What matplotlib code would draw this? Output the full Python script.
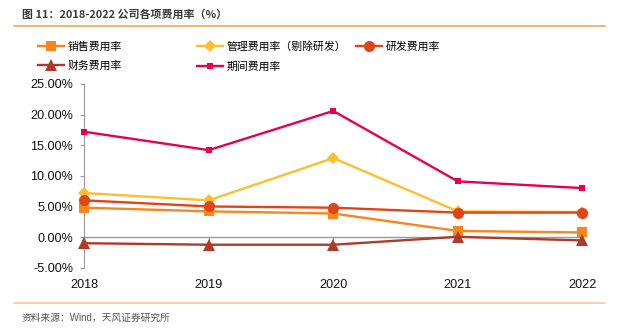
import matplotlib
matplotlib.use("Agg")
import matplotlib.pyplot as plt
from matplotlib.lines import Line2D
from matplotlib.ticker import FuncFormatter

plt.rcParams['font.family'] = ['Liberation Sans', 'Noto Sans CJK SC', 'DejaVu Sans']

years = ["2018", "2019", "2020", "2021", "2022"]
sales_rate = [4.8, 4.2, 3.85, 1.0, 0.75]
admin_rate = [7.2, 6.0, 12.9, 4.2, 4.1]
rd_rate = [6.0, 5.0, 4.8, 4.0, 4.0]
fin_rate = [-1.0, -1.25, -1.25, 0.05, -0.55]
period_rate = [17.2, 14.2, 20.6, 9.1, 8.0]

series = [
    ("销售费用率", sales_rate, "#F7861C", "s", 7),
    ("管理费用率（剔除研发）", admin_rate, "#FFBE2B", "D", 6),
    ("研发费用率", rd_rate, "#E04418", "o", 8),
    ("财务费用率", fin_rate, "#B03A2A", "^", 8),
    ("期间费用率", period_rate, "#E8004F", "s", 4.5),
]

W, H = 625, 331
fig = plt.figure(figsize=(W / 100, H / 100), dpi=100)

def fx(px):
    return px / W

def fy(py):
    return 1 - py / H

# Header and footer
fig.text(fx(22), fy(14), "图 11：2018-2022 公司各项费用率（%）", fontsize=7.9,
         color="#3a3a3a", va="center", ha="left",
         family=["Noto Sans CJK SC", "DejaVu Sans"], fontweight="bold")
fig.add_artist(Line2D([fx(14), fx(605)], [fy(26), fy(26)], color="#F39C4B", lw=1.1))
fig.add_artist(Line2D([fx(14), fx(605)], [fy(303), fy(303)], color="#F8C49A", lw=1.1))
fig.text(fx(22), fy(318), "资料来源：Wind，天风证券研究所", fontsize=7,
         color="#555555", va="center", ha="left")

ax = fig.add_axes([fx(84.3), fy(267.7), fx(582.3) - fx(84.3), fy(84) - fy(267.7)])
x = list(range(len(years)))
handles = {}
for name, vals, color, marker, ms in series:
    h, = ax.plot(x, vals, color=color, lw=1.7, marker=marker, markersize=ms,
                 markeredgewidth=0, label=name, clip_on=False, zorder=3)
    handles[name] = h

ax.set_xlim(0, len(years) - 1)
ax.set_ylim(-5, 25)
ax.set_yticks([-5, 0, 5, 10, 15, 20, 25])
ax.yaxis.set_major_formatter(FuncFormatter(lambda v, p: f"{v:.2f}%"))
ax.set_xticks(x)
ax.set_xticklabels(years)
ax.axhline(0, color="#999999", lw=1, zorder=1)
for s in ["top", "right", "bottom"]:
    ax.spines[s].set_visible(False)
ax.spines["left"].set_color("#999999")
ax.tick_params(axis="y", length=3, color="#999999", labelsize=9.1, pad=5, labelcolor="#111111")
ax.tick_params(axis="x", length=0, labelsize=9.1, pad=8, labelcolor="#111111")
for xi in x:
    ax.plot([xi, xi], [0, -0.5], color="#999999", lw=1, zorder=1, clip_on=False)

# Legend in three columns
def add_legend(names, left_px):
    leg = fig.legend([handles[n] for n in names], names, loc="upper left",
                     bbox_to_anchor=(fx(left_px), fy(41.5)), frameon=False,
                     handlelength=2.4, handletextpad=0.3,
                     labelspacing=0.8, borderpad=0, borderaxespad=0,
                     prop={"family": ["Noto Sans CJK SC", "DejaVu Sans"], "size": 7.8})
    return leg

add_legend(["销售费用率", "财务费用率"], 38)
add_legend(["管理费用率（剔除研发）", "期间费用率"], 197)
add_legend(["研发费用率"], 356)

fig.savefig("out.png", dpi=100)
